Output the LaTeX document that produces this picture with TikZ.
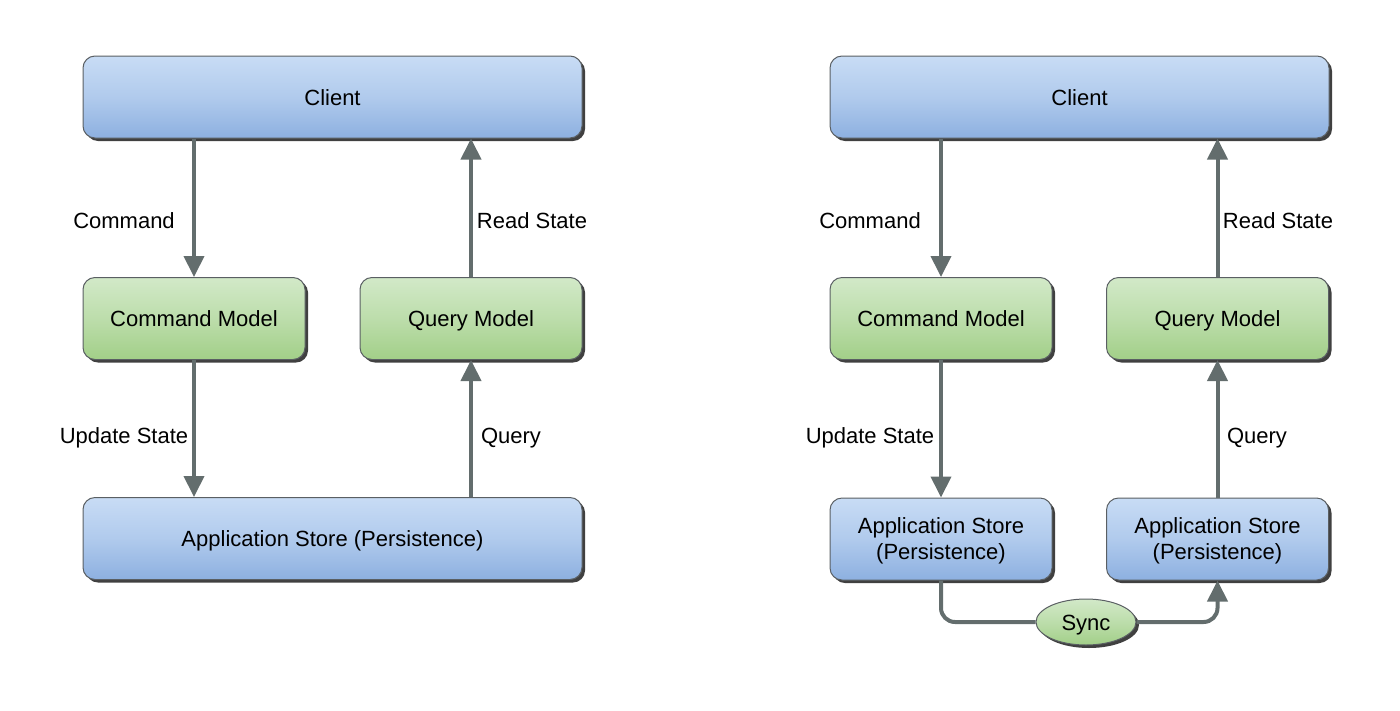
\documentclass[tikz,border=0pt]{standalone}
\usepackage{fontspec}
\setmainfont{Liberation Sans}
\usetikzlibrary{arrows.meta,shadows,shapes.geometric}
\definecolor{bluetop}{HTML}{C8DCF5}
\definecolor{bluebot}{HTML}{8DB0E0}
\definecolor{greentop}{HTML}{D2E9C8}
\definecolor{greenbot}{HTML}{A2CF88}
\definecolor{arrowgray}{HTML}{636D6D}
\definecolor{edgegray}{HTML}{5A5F63}
\tikzset{
  box/.style={draw=edgegray, line width=1pt, rounded corners=12pt, inner sep=0pt,
    minimum height=82pt, align=center,
    font=\fontsize{22}{26}\selectfont,
    drop shadow={shadow xshift=3pt, shadow yshift=-3pt, fill=black!75, opacity=1}},
  oneline/.style={text height=20pt, text depth=4pt},
  bluebox/.style={box, top color=bluetop, bottom color=bluebot, middle color=bluetop!60!bluebot},
  greenbox/.style={box, oneline, top color=greentop, bottom color=greenbot, middle color=greentop!55!greenbot},
  arr/.style={draw=arrowgray, line width=4pt, -{Triangle[width=20pt,length=21pt]}},
  lbl/.style={font=\fontsize{22}{26}\selectfont, inner sep=0pt, text height=20pt, text depth=4pt}
}
\begin{document}
\begin{tikzpicture}[x=1pt,y=-1pt]
\useasboundingbox (0,0) rectangle (1400,710);
% Left diagram
\node[bluebox, oneline, minimum width=499pt] (lc) at (332.5,97) {Client};
\node[greenbox, minimum width=222pt] (lcm) at (194,318.5) {Command Model};
\node[greenbox, minimum width=222pt] (lqm) at (471,318.5) {Query Model};
\node[bluebox, oneline, minimum width=499pt] (ls) at (332.5,538.5) {Application Store (Persistence)};
\draw[arr] (lc.south -| lcm.north) -- (lcm.north);
\draw[arr] (lqm.north) -- (lqm.north |- lc.south);
\draw[arr] (lcm.south) -- (lcm.south |- ls.north);
\draw[arr] (ls.north -| lqm.south) -- (lqm.south);
\node[lbl] (l1) at (124,220) {Command};
\node[lbl] (l2) at (532,220) {Read State};
\node[lbl] (l3) at (124,435) {Update State};
\node[lbl] (l4) at (511,435) {Query};
% Right diagram
\node[bluebox, oneline, minimum width=499pt] (rc) at (1079.5,97) {Client};
\node[greenbox, minimum width=222pt] (rcm) at (941,318.5) {Command Model};
\node[greenbox, minimum width=222pt] (rqm) at (1217.5,318.5) {Query Model};
\node[bluebox, minimum width=222pt] (rs1) at (941,539) {\rule{0pt}{20pt}Application Store\\(Persistence)};
\node[bluebox, minimum width=222pt] (rs2) at (1217.5,539) {\rule{0pt}{20pt}Application Store\\(Persistence)};
\draw[arr] (rc.south -| rcm.north) -- (rcm.north);
\draw[arr] (rqm.north) -- (rqm.north |- rc.south);
\draw[arr] (rcm.south) -- (rs1.north);
\draw[arr] (rs2.north) -- (rqm.south);
\node[greenbox, ellipse, rounded corners=0pt, minimum width=100pt, minimum height=46pt] (sync) at (1086,622) {Sync};
\draw[draw=arrowgray, line width=4pt, rounded corners=14pt] (rs1.south) |- (sync.west);
\draw[arr, rounded corners=14pt] (sync.east) -| (rs2.south);
\node[lbl] (r1) at (870,220) {Command};
\node[lbl] (r2) at (1278,220) {Read State};
\node[lbl] (r3) at (870,435) {Update State};
\node[lbl] (r4) at (1257,435) {Query};
\end{tikzpicture}
\end{document}
